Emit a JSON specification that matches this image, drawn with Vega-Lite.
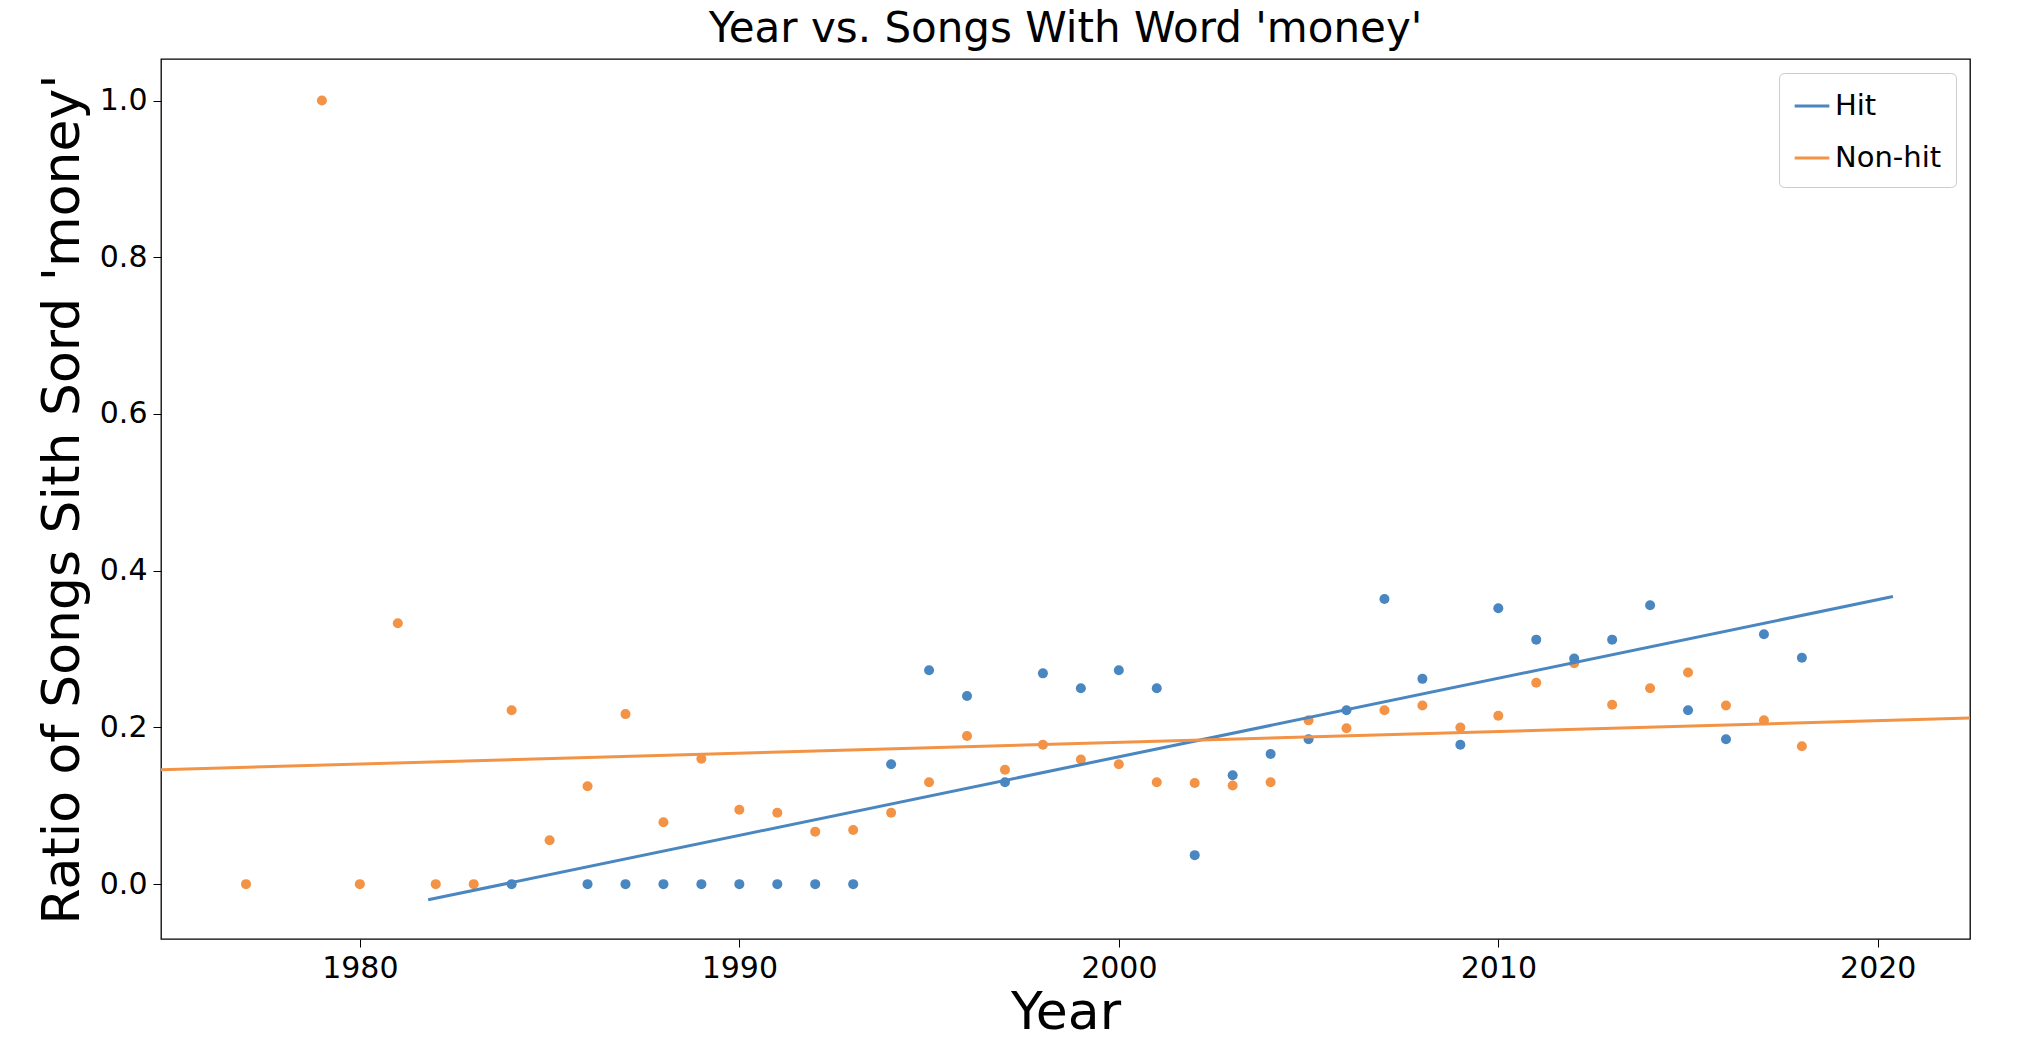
{
"$schema":"https://vega.github.io/schema/vega-lite/v6.json",
"autosize":{"type":"none"},
"width":1809,"height":880,
"padding":{"left":161,"top":59,"right":68,"bottom":113},
"background":"white",
"config":{"font":"DejaVu Sans","view":{"stroke":"black","strokeWidth":1.3},"axis":{"grid":false,"domain":false,"tickColor":"black","labelColor":"black","titleColor":"black","labelFontSize":30,"tickSize":8,"titleFontWeight":"normal","labelPadding":6}},
"title":{"text":"Year vs. Songs With Word 'money'","fontSize":42,"fontWeight":"normal","color":"black","offset":8},
"datasets":{
"pts":[
{"year":1977,"r":0,"s":"Non-hit"},{"year":1979,"r":1.0,"s":"Non-hit"},{"year":1980,"r":0,"s":"Non-hit"},{"year":1981,"r":0.333,"s":"Non-hit"},{"year":1982,"r":0,"s":"Non-hit"},{"year":1983,"r":0,"s":"Non-hit"},{"year":1984,"r":0.222,"s":"Non-hit"},{"year":1985,"r":0.056,"s":"Non-hit"},{"year":1986,"r":0.125,"s":"Non-hit"},{"year":1987,"r":0.217,"s":"Non-hit"},{"year":1988,"r":0.079,"s":"Non-hit"},{"year":1989,"r":0.16,"s":"Non-hit"},{"year":1990,"r":0.095,"s":"Non-hit"},{"year":1991,"r":0.091,"s":"Non-hit"},{"year":1992,"r":0.067,"s":"Non-hit"},{"year":1993,"r":0.069,"s":"Non-hit"},{"year":1994,"r":0.091,"s":"Non-hit"},{"year":1995,"r":0.13,"s":"Non-hit"},{"year":1996,"r":0.189,"s":"Non-hit"},{"year":1997,"r":0.146,"s":"Non-hit"},{"year":1998,"r":0.178,"s":"Non-hit"},{"year":1999,"r":0.159,"s":"Non-hit"},{"year":2000,"r":0.153,"s":"Non-hit"},{"year":2001,"r":0.13,"s":"Non-hit"},{"year":2002,"r":0.129,"s":"Non-hit"},{"year":2003,"r":0.126,"s":"Non-hit"},{"year":2004,"r":0.13,"s":"Non-hit"},{"year":2005,"r":0.209,"s":"Non-hit"},{"year":2006,"r":0.199,"s":"Non-hit"},{"year":2007,"r":0.222,"s":"Non-hit"},{"year":2008,"r":0.228,"s":"Non-hit"},{"year":2009,"r":0.2,"s":"Non-hit"},{"year":2010,"r":0.215,"s":"Non-hit"},{"year":2011,"r":0.257,"s":"Non-hit"},{"year":2012,"r":0.282,"s":"Non-hit"},{"year":2013,"r":0.229,"s":"Non-hit"},{"year":2014,"r":0.25,"s":"Non-hit"},{"year":2015,"r":0.27,"s":"Non-hit"},{"year":2016,"r":0.228,"s":"Non-hit"},{"year":2017,"r":0.209,"s":"Non-hit"},{"year":2018,"r":0.176,"s":"Non-hit"},
{"year":1984,"r":0,"s":"Hit"},{"year":1986,"r":0,"s":"Hit"},{"year":1987,"r":0,"s":"Hit"},{"year":1988,"r":0,"s":"Hit"},{"year":1989,"r":0,"s":"Hit"},{"year":1990,"r":0,"s":"Hit"},{"year":1991,"r":0,"s":"Hit"},{"year":1992,"r":0,"s":"Hit"},{"year":1993,"r":0,"s":"Hit"},{"year":1994,"r":0.153,"s":"Hit"},{"year":1995,"r":0.273,"s":"Hit"},{"year":1996,"r":0.24,"s":"Hit"},{"year":1997,"r":0.13,"s":"Hit"},{"year":1998,"r":0.269,"s":"Hit"},{"year":1999,"r":0.25,"s":"Hit"},{"year":2000,"r":0.273,"s":"Hit"},{"year":2001,"r":0.25,"s":"Hit"},{"year":2002,"r":0.037,"s":"Hit"},{"year":2003,"r":0.139,"s":"Hit"},{"year":2004,"r":0.166,"s":"Hit"},{"year":2005,"r":0.185,"s":"Hit"},{"year":2006,"r":0.222,"s":"Hit"},{"year":2007,"r":0.364,"s":"Hit"},{"year":2008,"r":0.262,"s":"Hit"},{"year":2009,"r":0.178,"s":"Hit"},{"year":2010,"r":0.352,"s":"Hit"},{"year":2011,"r":0.312,"s":"Hit"},{"year":2012,"r":0.288,"s":"Hit"},{"year":2013,"r":0.312,"s":"Hit"},{"year":2014,"r":0.356,"s":"Hit"},{"year":2015,"r":0.222,"s":"Hit"},{"year":2016,"r":0.185,"s":"Hit"},{"year":2017,"r":0.319,"s":"Hit"},{"year":2018,"r":0.289,"s":"Hit"}],
"fit":[
{"year":1981.8,"r":-0.02,"s":"Hit"},{"year":2020.4,"r":0.367,"s":"Hit"},
{"year":1974.76,"r":0.146,"s":"Non-hit"},{"year":2022.43,"r":0.212,"s":"Non-hit"}]
},
"encoding":{
"x":{"field":"year","type":"quantitative","scale":{"domain":[1974.76,2022.43],"nice":false,"zero":false},"axis":{"values":[1980,1990,2000,2010,2020],"format":"d","title":"Year","titleFontSize":52,"titlePadding":4}},
"y":{"field":"r","type":"quantitative","scale":{"domain":[-0.07,1.053],"nice":false,"zero":false},"axis":{"values":[0,0.2,0.4,0.6,0.8,1.0],"format":".1f","title":"Ratio of Songs Sith Sord 'money'","titleFontSize":52,"titlePadding":10}},
"color":{"field":"s","type":"nominal","scale":{"domain":["Hit","Non-hit"],"range":["#4a86bf","#f29346"]},"legend":{"title":null,"orient":"top-right","symbolType":"stroke","symbolStrokeWidth":3,"symbolSize":1200,"labelFontSize":29,"labelColor":"black","strokeColor":"#cccccc","fillColor":"white","padding":14,"cornerRadius":5,"rowPadding":18,"offset":14}}
},
"layer":[
{"data":{"name":"pts"},"mark":{"type":"circle","size":100,"opacity":1}},
{"data":{"name":"fit"},"mark":{"type":"line","strokeWidth":3,"clip":true},"encoding":{"detail":{"field":"s"}}}
]
}
